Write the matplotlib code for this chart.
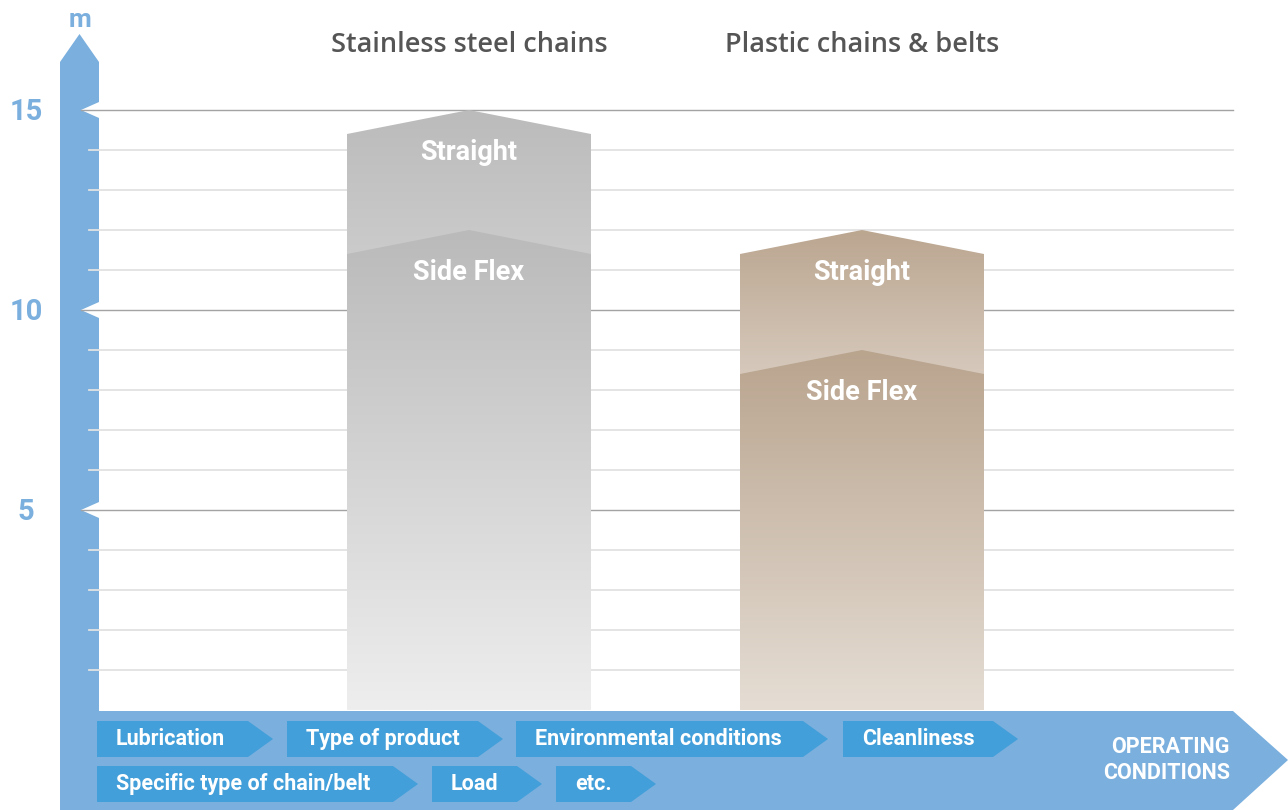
import numpy as np
import matplotlib.pyplot as plt
import matplotlib.transforms as mtransforms
from matplotlib.patches import Polygon
from matplotlib.colors import to_rgb
from matplotlib import font_manager

# data
groups = ["Stainless steel chains", "Plastic chains & belts"]
series = ["Straight", "Side Flex"]
straight_max = [15, 12]   # m
sideflex_max = [12, 9]    # m
y_major = [5, 10, 15]
y_minor = [1, 2, 3, 4, 6, 7, 8, 9, 11, 12, 13, 14]
conditions_row1 = ["Lubrication", "Type of product", "Environmental conditions", "Cleanliness"]
conditions_row2 = ["Specific type of chain/belt", "Load", "etc."]
x_label = "OPERATING\nCONDITIONS"
y_unit = "m"

# colours (top, bottom) of the gradients per group
straight_cols = [("#bbbbbb", "#cbcbcb"), ("#bba690", "#d6c9bc")]
sideflex_cols = [("#bababa", "#eeeeee"), ("#b9a48e", "#e5ddd4")]
AXIS_BLUE = "#7aafde"
TAG_BLUE = "#439fd9"

names = {f.name for f in font_manager.fontManager.ttflist}
COND = "Liberation Sans Narrow" if "Liberation Sans Narrow" in names else "Roboto"
plt.rcParams["font.family"] = ["Roboto", "DejaVu Sans"]

W, H = 1288, 810
fig = plt.figure(figsize=(W / 100, H / 100), dpi=100)
ax = fig.add_axes([0, 0, 1, 1])
ax.set_axis_off()

# data axes: bar centres 0 and 1 at 469px and 862px, 40 px per metre, 0 m at 710px from top
xs = 393.0
ax.set_xlim(-469 / xs, (W - 469) / xs)
ax.set_ylim(-(H - 710) / 40.0, 710 / 40.0)

# pixel transform (origin top-left)
px = mtransforms.Affine2D().scale(0.01, -0.01).translate(0, H / 100) + fig.dpi_scale_trans
blend = mtransforms.blended_transform_factory(px, ax.transData)
blend_x = mtransforms.blended_transform_factory(ax.transData, px)

# vertical axis arrow
ax.add_patch(Polygon([(60, 711), (60, 62), (79.5, 34), (99, 62), (99, 711)],
                     closed=True, transform=px, color=AXIS_BLUE, lw=0, zorder=1))
ax.text(79.5, 20, y_unit, transform=px, ha="center", va="center", fontsize=19,
        fontweight="bold", color=AXIS_BLUE, zorder=5)

# grid lines
for v in y_minor:
    ax.plot([89, 1233], [v, v], transform=blend, color="#e2e2e2", lw=1.3, zorder=2)
for v in y_major:
    ax.add_patch(Polygon([(99, v + 0.2), (81, v), (99, v - 0.2)], closed=True,
                         transform=blend, color="white", lw=0, zorder=2))
    ax.plot([81, 1233], [v, v], transform=blend, color="#a3a3a3", lw=1.0, zorder=2)
    ax.text(26, v - 0.05, str(v), transform=blend, ha="center", va="center",
            fontsize=21, fontweight="bold", color=AXIS_BLUE, zorder=5)

# bars with arrow-shaped tops and vertical gradients
bw = 244 / xs
drop = 0.6


def gradient_bar(c, top, low_val, ctop, clow, z):
    poly = Polygon([(c - bw / 2, 0), (c - bw / 2, top - drop), (c, top),
                    (c + bw / 2, top - drop), (c + bw / 2, 0)], closed=True,
                   facecolor="none", edgecolor="none")
    ax.add_patch(poly)
    yy = np.linspace(top, 0, 400)
    t = np.clip((top - yy) / (top - low_val), 0, 1)
    a = np.array(to_rgb(ctop))
    b = np.array(to_rgb(clow))
    img = a[None, :] + (b - a)[None, :] * t[:, None]
    img = np.repeat(img[:, None, :], 2, axis=1)
    im = ax.imshow(img, extent=(c - bw / 2, c + bw / 2, 0, top), aspect="auto",
                   interpolation="bilinear", zorder=z)
    im.set_clip_path(poly)


for i in range(len(groups)):
    gradient_bar(i, straight_max[i], sideflex_max[i] - drop, *straight_cols[i], z=3)
    gradient_bar(i, sideflex_max[i], 0, *sideflex_cols[i], z=4)
    ax.text(i, straight_max[i] - 1.05, series[0], ha="center", va="center", fontsize=19.5,
            fontweight="bold", color="white", family=[COND, "DejaVu Sans"], zorder=6)
    ax.text(i, sideflex_max[i] - 1.05, series[1], ha="center", va="center", fontsize=19.5,
            fontweight="bold", color="white", family=[COND, "DejaVu Sans"], zorder=6)
    ax.text(i, 45, groups[i], transform=blend_x, ha="center", va="center", fontsize=19.5,
            fontweight="semibold", color="#555555", family=["Open Sans", "DejaVu Sans"],
            zorder=6)

# bottom band arrow
ax.add_patch(Polygon([(60, 711), (1233, 711), (1288, 760), (1233, 810), (60, 810)],
                     closed=True, transform=px, color=AXIS_BLUE, lw=0, zorder=7))
ax.text(1230, 760, x_label, transform=px, ha="right", va="center", fontsize=15.5,
        fontweight="bold", color="white", linespacing=1.2,
        family=[COND, "DejaVu Sans"], zorder=9)

# condition tags
row1_x = [(97, 248), (287, 478), (516, 803), (843, 993)]
row2_x = [(97, 393), (432, 517), (556, 631)]
for labels, xpos, (y0, y1) in [(conditions_row1, row1_x, (721, 757)),
                               (conditions_row2, row2_x, (766, 802))]:
    ym = (y0 + y1) / 2
    for lab, (x0, x1) in zip(labels, xpos):
        ax.add_patch(Polygon([(x0, y0), (x1, y0), (x1 + 25, ym), (x1, y1), (x0, y1)],
                             closed=True, transform=px, color=TAG_BLUE, lw=0, zorder=8))
        ax.text(x0 + 19, ym, lab, transform=px, ha="left", va="center", fontsize=15.5,
                fontweight="bold", color="white", family=[COND, "DejaVu Sans"], zorder=9)

fig.savefig("out.png", dpi=100)
